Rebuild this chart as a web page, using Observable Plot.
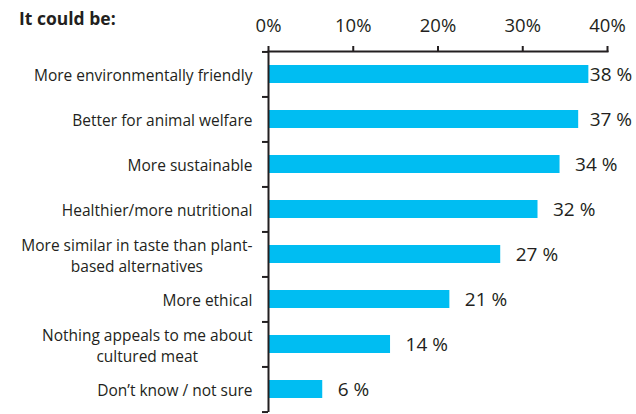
<!DOCTYPE html>
<html><head><meta charset="utf-8">
<script src="https://cdn.jsdelivr.net/npm/d3@7"></script>
<script src="https://cdn.jsdelivr.net/npm/@observablehq/plot@0.6"></script>
<style>
body{margin:0;background:#fff;}
#wrap{position:relative;width:636px;height:414px;}
#title{position:absolute;left:19px;top:6px;font-family:"Open Sans";font-weight:700;font-size:17.5px;color:#231f20;}
</style></head><body>
<div id="wrap"><div id="title"></div></div>
<script>
const title = "It could be:";
const categories = [
  "More environmentally friendly",
  "Better for animal welfare",
  "More sustainable",
  "Healthier/more nutritional",
  "More similar in taste than plant-\nbased alternatives",
  "More ethical",
  "Nothing appeals to me about\ncultured meat",
  "Don’t know / not sure"
];
const values = [37.8, 36.6, 34.4, 31.8, 27.4, 21.4, 14.4, 6.4];
const valueLabels = ["38 %", "37 %", "34 %", "32 %", "27 %", "21 %", "14 %", "6 %"];
const xTicks = [0, 10, 20, 30, 40];

const data = categories.map((c, i) => ({category: c, value: values[i], label: valueLabels[i]}));

document.getElementById("title").textContent = title;

const W = 636, H = 414, mt = 51, mb = 2, ml = 268, mr = 29;
const step = (H - mt - mb) / categories.length;
const ink = "#231f20";
const font = "Open Sans";

const chart = Plot.plot({
  width: W, height: H,
  marginTop: mt, marginBottom: mb, marginLeft: ml, marginRight: mr,
  style: {fontFamily: font, color: ink, background: "white", overflow: "visible"},
  x: {domain: [0, 40]},
  y: {domain: categories, paddingInner: 0.6, paddingOuter: 0.3},
  marks: [
    Plot.barX(data, {x: "value", y: "category", fill: "#00bdf2"}),
    Plot.text(data, {filter: d => d.value < 36, x: "value", y: "category", text: "label",
      textAnchor: "start", dx: 15, fontSize: 19, fill: ink}),
    Plot.text(data, {filter: d => d.value >= 36 && d.value < 37.5, x: "value", y: "category", text: "label",
      textAnchor: "start", dx: 11, fontSize: 19, fill: ink}),
    Plot.text(data, {filter: d => d.value >= 37.5, x: "value", y: "category", text: "label",
      textAnchor: "start", dx: 1, fontSize: 19, fill: ink}),
    Plot.axisX({anchor: "top", ticks: xTicks, tickFormat: d => d + "%", tickSize: 6,
      tickPadding: 14, fontSize: 18.5, strokeWidth: 2, stroke: ink, fill: ink, label: null}),
    Plot.frame({anchor: "top", stroke: ink, strokeWidth: 2}),
    Plot.ruleX([0], {stroke: ink, strokeWidth: 2}),
    Plot.ruleY(categories, {y: d => d, x1: 0, x2: 0, insetLeft: -6, dy: -step / 2, stroke: ink, strokeWidth: 2}),
    Plot.ruleY(categories.slice(-1), {y: d => d, x1: 0, x2: 0, insetLeft: -6, dy: step / 2, stroke: ink, strokeWidth: 2}),
    Plot.axisY({tickSize: 0, tickPadding: 16, fontSize: 15.5, lineHeight: 1.4, fill: ink, label: null})
  ]
});

document.getElementById("wrap").appendChild(chart);

// centre the lines of multi-line category labels within their right-aligned block
d3.select(chart).selectAll('g[aria-label="y-axis tick label"] text').each(function() {
  const spans = Array.from(this.querySelectorAll("tspan"));
  if (spans.length < 2) return;
  const w = d3.max(spans, s => s.getComputedTextLength());
  this.setAttribute("text-anchor", "middle");
  spans.forEach(s => s.setAttribute("x", -w / 2));
});
</script>
</body></html>
